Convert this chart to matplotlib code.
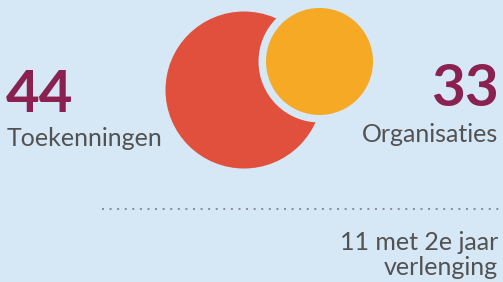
import matplotlib
matplotlib.use("Agg")
import matplotlib.pyplot as plt
from matplotlib.patches import Circle

# data
labels = ["Toekenningen", "Organisaties"]
values = [44, 33]
extension_count = 11
extension_lines = ["met 2e jaar", "verlenging"]

BG = "#d6e7f6"
RED = "#e0503c"
ORANGE = "#f5a924"
PURPLE = "#8a2150"
GREY = "#525252"

fig = plt.figure(figsize=(5.03, 2.82), dpi=100, facecolor=BG)
ax = fig.add_axes([0, 0, 1, 1])
ax.set_facecolor(BG)
ax.set_xlim(0, 503)
ax.set_ylim(282, 0)
ax.set_aspect("equal")
ax.axis("off")

# circles: big one for grants, small one for organisations, with a gap ring
ax.add_patch(Circle((244, 90), 78.5, color=RED, lw=0))
ax.add_patch(Circle((319.5, 61.5), 61, color=BG, lw=0))
ax.add_patch(Circle((319.5, 61.5), 53.5, color=ORANGE, lw=0))

font = "Lato"
ax.text(6, 112, str(values[0]), color=PURPLE, fontsize=42, fontweight="bold",
        family=font, ha="left", va="baseline")
ax.text(7, 146, labels[0], color=GREY, fontsize=18,
        family=font, ha="left", va="baseline")
ax.text(499, 106, str(values[1]), color=PURPLE, fontsize=42, fontweight="bold",
        family=font, ha="right", va="baseline")
ax.text(498, 142, labels[1], color=GREY, fontsize=18,
        family=font, ha="right", va="baseline")

ax.plot([102, 503], [209, 209], color="#858c96", lw=1.4,
        linestyle=(0, (1, 2.9)), solid_capstyle="butt")

ax.text(498, 250, f"{extension_count} {extension_lines[0]}", color=GREY,
        fontsize=18, family=font, ha="right", va="baseline")
ax.text(498, 275, extension_lines[1], color=GREY, fontsize=18,
        family=font, ha="right", va="baseline")

fig.savefig("out.png", dpi=100, facecolor=BG)
